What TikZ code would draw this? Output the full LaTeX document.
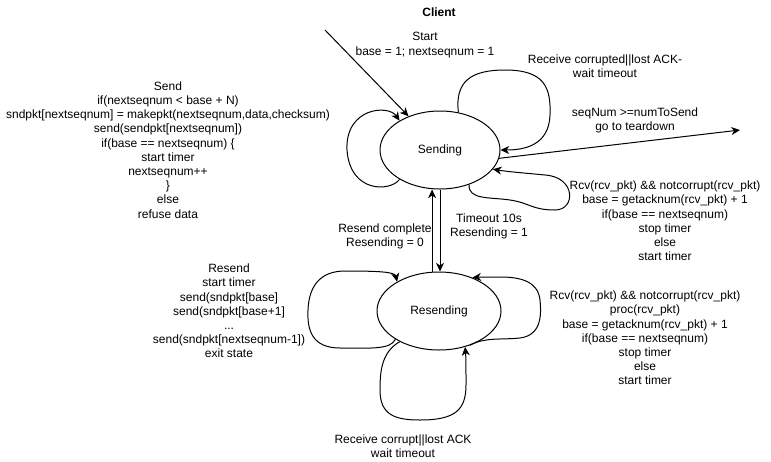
\documentclass[tikz,border=0pt]{standalone}
\usepackage{fontspec}
\setmainfont{Liberation Sans}
\usepackage{tikz}
\usetikzlibrary{arrows.meta,calc,positioning,shapes.geometric}

\tikzset{
  state/.style={draw,ellipse,inner sep=0pt,minimum height=58.5pt,line width=0.75pt,font=\fontsize{9}{10.65}\selectfont},
  lbl/.style={align=center,inner sep=0pt,font=\fontsize{9}{10.65}\selectfont},
  arr/.style={line width=0.75pt,-{Stealth[length=6.5pt,width=6pt,inset=2pt]}}
}

\begin{document}
\begin{tikzpicture}[x=0.75pt,y=-0.75pt]
  \useasboundingbox (0,0) rectangle (771,461);
  \node[lbl,font=\fontsize{9}{10.65}\selectfont\bfseries] (title) at (439,12) {Client};
  \node[state,minimum width=90pt] (send) at (440,150) {Sending};
  \node[state,minimum width=93pt] (res) at (439,311) {Resending};
  \coordinate (st) at (325,30); \coordinate (td) at (740,130);
  % sending
  \draw[arr] (st) -- (send.133);
  \node[lbl] (startlbl) at (425,45) {Start\\base = 1; nextseqnum = 1};
  \draw[arr] (send.216) .. controls (390,192) and (350,193) .. (347,150) .. controls (345,108) and (388,104) .. (send.144);
  \node[lbl] (sendlbl) at (168,150) {Send\\if(nextseqnum < base + N)\\sndpkt[nextseqnum] = makepkt(nextseqnum,data,checksum)\\send(sendpkt[nextseqnum])\\if(base == nextseqnum) \{\\start timer\\nextseqnum++\\\}\\else\\refuse data};
  \draw[arr] (send.64) .. controls (455,82) and (470,70) .. (505,70) .. controls (545,70) and (551,88) .. (550,115) .. controls (549,145) and (525,150) .. (send.0);
  \node[lbl] (waitlbl) at (605,66) {Receive corrupted||lost ACK-\\wait timeout};
  \draw[arr] (send.-8) -- (td);
  \node[lbl] (tdlbl) at (635,120) {seqNum >=numToSend\\go to teardown};
  \draw[arr] (send.-50) .. controls (468,200) and (490,197) .. (510,200) .. controls (530,203) and (532,210) .. (555,210) .. controls (576,210) and (576,177) .. (545,175) .. controls (525,173) and (510,172) .. (send.-20);
  \node[lbl] (acklbl) at (665,221) {Rcv(rcv\_pkt) \&\& notcorrupt(rcv\_pkt)\\base = getacknum(rcv\_pkt) + 1\\if(base == nextseqnum)\\stop timer\\else\\start timer};
  % between states
  \draw[arr] (res.100) -- (res.100 |- send.south);
  \draw[arr] (send.south) -- (send.south |- res.north);
  \node[lbl] (tolbl) at (489,226) {Timeout 10s\\Resending = 1};
  \node[lbl] (donelbl) at (385,236) {Resend complete\\Resending = 0};
  % resending
  \draw[arr] (res.213) .. controls (390,350) and (370,348) .. (340,348) .. controls (312,348) and (307,330) .. (308,310) .. controls (309,284) and (322,271) .. (345,271) .. controls (380,271) and (395,272) .. (res.145);
  \node[lbl] (reslbl) at (229,311) {Resend\\start timer\\send(sndpkt[base]\\send(sndpkt[base+1]\\...\\send(sndpkt[nextseqnum-1])\\exit state};
  \draw[arr] (res.-48) .. controls (485,337) and (500,340) .. (520,338) .. controls (543,335) and (541,312) .. (540,300) .. controls (538,281) and (520,277) .. (500,277) .. controls (488,277) and (480,277) .. (res.45);
  \node[lbl] (ack2lbl) at (645,338) {Rcv(rcv\_pkt) \&\& notcorrupt(rcv\_pkt)\\proc(rcv\_pkt)\\base = getacknum(rcv\_pkt) + 1\\if(base == nextseqnum)\\stop timer\\else\\start timer};
  \draw[arr] (res.218) .. controls (382,352) and (380,370) .. (380,390) .. controls (380,415) and (395,420) .. (420,420) .. controls (455,420) and (466,410) .. (466,385) .. controls (466,368) and (466,358) .. (res.-54);
  \node[lbl] (corlbl) at (403,446) {Receive corrupt||lost ACK\\wait timeout};
\end{tikzpicture}
\end{document}
